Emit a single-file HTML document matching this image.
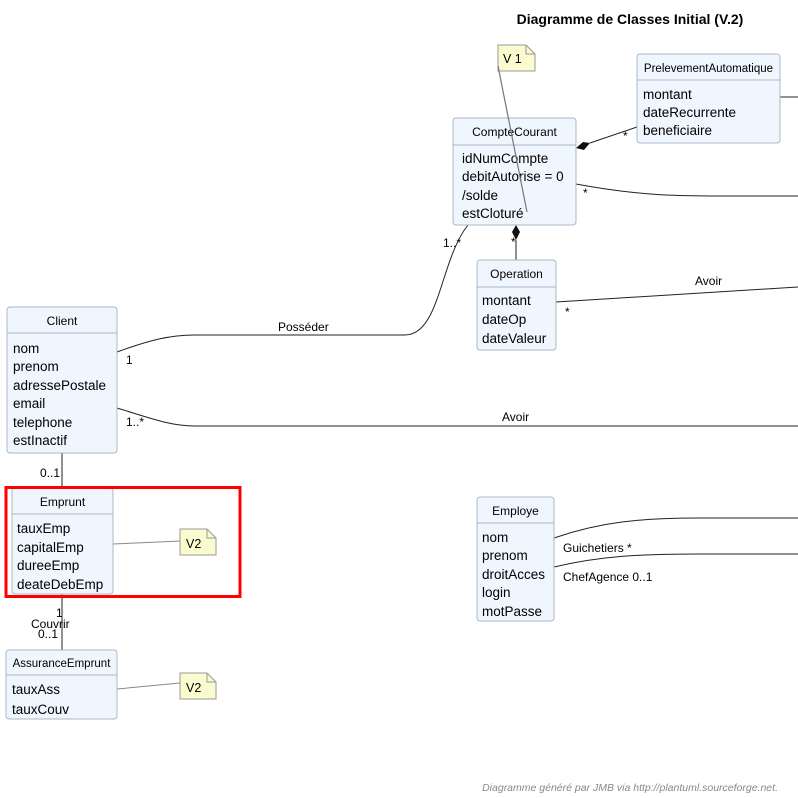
<!DOCTYPE html>
<html><head><meta charset="utf-8"><style>
html,body{margin:0;padding:0;background:#fff;}
svg{display:block;}
text{font-family:"Liberation Sans",sans-serif;fill:#000;}
.cls{fill:#EFF6FE;stroke:#A8B8C8;stroke-width:1;}
.hd{font-size:12px;}
.at{font-size:13.5px;}
.lb{font-size:12px;}
.ln{fill:none;stroke:#222;stroke-width:1;}
.note{fill:#FBFBD0;stroke:#999;stroke-width:1;}
</style></head><body>
<svg width="798" height="798" viewBox="0 0 798 798" xmlns="http://www.w3.org/2000/svg">
<text x="630" y="24" text-anchor="middle" style="font-size:14px;font-weight:bold">Diagramme de Classes Initial (V.2)</text>

<!-- connectors -->
<path class="ln" d="M117,352 C150,340 170,335 195,335 L405,335 C440,335 440,260 468,225"/>
<path class="ln" d="M117,408 C150,418 170,426 195,426 L798,426"/>
<path class="ln" d="M576,184 C640,196 680,196 720,196 L798,196"/>
<path class="ln" d="M590,143 L637,127"/>
<polygon points="576,148 583,142 590,143 584,150" fill="#111"/>
<path class="ln" d="M516,240 L516,260"/>
<polygon points="516,225 520,232 516,240 512,232" fill="#111"/>
<path class="ln" d="M556,302 L798,287"/>
<path class="ln" d="M780,97 L798,97"/>
<path class="ln" d="M554,538 C600,522 640,518 700,518 L798,518"/>
<path class="ln" d="M554,567 C600,556 640,554 700,554 L798,554"/>
<path class="ln" d="M62,453 L62,488"/>
<path class="ln" d="M62,594 L62,650"/>
<path class="ln" d="M113,544 L180,541" style="stroke:#888"/>
<path class="ln" d="M117,689 L180,683" style="stroke:#888"/>

<!-- labels -->
<text class="lb" x="278" y="331">Posséder</text>
<text class="lb" x="126" y="364">1</text>
<text class="lb" x="443" y="247">1..*</text>
<text class="lb" x="502" y="421">Avoir</text>
<text class="lb" x="126" y="426">1..*</text>
<text class="lb" x="583" y="197">*</text>
<text class="lb" x="623" y="140">*</text>
<text class="lb" x="511" y="246">*</text>
<text class="lb" x="695" y="285">Avoir</text>
<text class="lb" x="565" y="316">*</text>
<text class="lb" x="563" y="552">Guichetiers *</text>
<text class="lb" x="563" y="581">ChefAgence 0..1</text>
<text class="lb" x="40" y="477">0..1</text>
<text class="lb" x="56" y="617">1</text>
<text class="lb" x="31" y="628">Couvrir</text>
<text class="lb" x="38" y="638">0..1</text>

<!-- CompteCourant -->
<rect class="cls" x="453" y="118" width="123" height="107" rx="3"/>
<line x1="453" y1="145" x2="576" y2="145" stroke="#A8B8C8"/>
<text class="hd" x="514.5" y="136" text-anchor="middle">CompteCourant</text>
<text class="at" x="462" y="163">idNumCompte</text>
<text class="at" x="462" y="181">debitAutorise = 0</text>
<text class="at" x="462" y="200">/solde</text>
<text class="at" x="462" y="218">estCloturé</text>

<!-- PrelevementAutomatique -->
<rect class="cls" x="637" y="54" width="143" height="89" rx="3"/>
<line x1="637" y1="80" x2="780" y2="80" stroke="#A8B8C8"/>
<text class="hd" x="708.5" y="72" text-anchor="middle" style="font-size:11.5px">PrelevementAutomatique</text>
<text class="at" x="643" y="99">montant</text>
<text class="at" x="643" y="117">dateRecurrente</text>
<text class="at" x="643" y="135">beneficiaire</text>

<!-- Operation -->
<rect class="cls" x="477" y="260" width="79" height="90" rx="3"/>
<line x1="477" y1="287" x2="556" y2="287" stroke="#A8B8C8"/>
<text class="hd" x="516.5" y="278" text-anchor="middle">Operation</text>
<text class="at" x="482" y="305">montant</text>
<text class="at" x="482" y="324">dateOp</text>
<text class="at" x="482" y="343">dateValeur</text>

<!-- Client -->
<rect class="cls" x="7" y="307" width="110" height="146" rx="3"/>
<line x1="7" y1="333" x2="117" y2="333" stroke="#A8B8C8"/>
<text class="hd" x="62" y="325" text-anchor="middle">Client</text>
<text class="at" x="13" y="353">nom</text>
<text class="at" x="13" y="371">prenom</text>
<text class="at" x="13" y="390">adressePostale</text>
<text class="at" x="13" y="408">email</text>
<text class="at" x="13" y="427">telephone</text>
<text class="at" x="13" y="445">estInactif</text>

<!-- Emprunt -->
<rect class="cls" x="12" y="488" width="101" height="106" rx="3"/>
<line x1="12" y1="514" x2="113" y2="514" stroke="#A8B8C8"/>
<text class="hd" x="62.5" y="506" text-anchor="middle">Emprunt</text>
<text class="at" x="17" y="533">tauxEmp</text>
<text class="at" x="17" y="552">capitalEmp</text>
<text class="at" x="17" y="570">dureeEmp</text>
<text class="at" x="17" y="589">deateDebEmp</text>
<rect x="6" y="487.5" width="234" height="109" fill="none" stroke="#f00" stroke-width="3"/>

<!-- AssuranceEmprunt -->
<rect class="cls" x="6" y="650" width="111" height="69" rx="3"/>
<line x1="6" y1="675" x2="117" y2="675" stroke="#A8B8C8"/>
<text class="hd" x="61.5" y="667" text-anchor="middle" style="font-size:11.5px">AssuranceEmprunt</text>
<text class="at" x="12" y="694">tauxAss</text>
<text class="at" x="12" y="714">tauxCouv</text>

<!-- Employe -->
<rect class="cls" x="477" y="497" width="77" height="124" rx="3"/>
<line x1="477" y1="523" x2="554" y2="523" stroke="#A8B8C8"/>
<text class="hd" x="515.5" y="515" text-anchor="middle">Employe</text>
<text class="at" x="482" y="542">nom</text>
<text class="at" x="482" y="560">prenom</text>
<text class="at" x="482" y="579">droitAcces</text>
<text class="at" x="482" y="597">login</text>
<text class="at" x="482" y="616">motPasse</text>

<!-- notes -->
<path class="note" d="M498,45 L526,45 L535,54 L535,71 L498,71 Z"/>
<path d="M526,45 L526,54 L535,54" fill="none" stroke="#999"/>
<text class="lb" x="503" y="63" style="font-size:12.5px">V 1</text>
<path d="M498,66 L527,212" style="stroke:#777;fill:none;stroke-width:1.2"/>

<path class="note" d="M180,529 L207,529 L216,538 L216,555 L180,555 Z"/>
<path d="M207,529 L207,538 L216,538" fill="none" stroke="#999"/>
<text class="lb" x="186" y="548" style="font-size:12.5px">V2</text>

<path class="note" d="M180,673 L207,673 L216,682 L216,699 L180,699 Z"/>
<path d="M207,673 L207,682 L216,682" fill="none" stroke="#999"/>
<text class="lb" x="186" y="692" style="font-size:12.5px">V2</text>

<text x="778" y="791" text-anchor="end" style="font-size:10.5px;font-style:italic;fill:#888">Diagramme généré par JMB via http://plantuml.sourceforge.net.</text>
</svg>
</body></html>
